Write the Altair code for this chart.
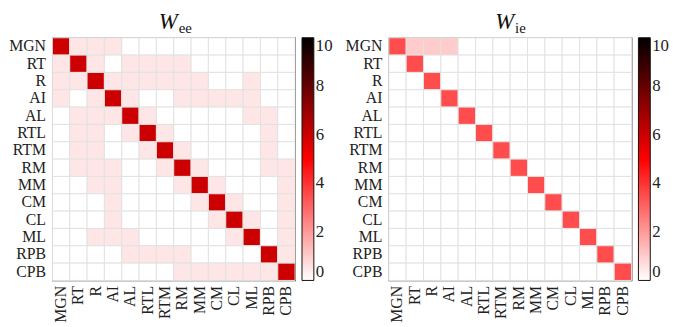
import altair as alt
import pandas as pd

categories = ["MGN", "RT", "R", "AI", "AL", "RTL", "RTM", "RM", "MM", "CM", "CL", "ML", "RPB", "CPB"]

# W_ee values (diagonal ~6, weak connections ~0.5)
D, P = 6.0, 0.5
W_ee = [
    [D, P, P, P, 0, 0, 0, 0, 0, 0, 0, 0, 0, 0],
    [P, D, P, 0, P, P, P, P, 0, 0, 0, 0, 0, 0],
    [P, P, D, P, P, P, P, P, P, 0, 0, P, 0, 0],
    [P, 0, P, D, P, 0, 0, P, P, P, P, P, 0, 0],
    [0, P, P, P, D, P, 0, 0, 0, 0, 0, P, P, 0],
    [0, P, P, 0, P, D, P, 0, 0, 0, 0, 0, P, 0],
    [0, P, P, 0, 0, P, D, P, 0, 0, 0, 0, P, 0],
    [0, P, P, P, 0, 0, P, D, P, 0, 0, 0, P, P],
    [0, 0, P, P, 0, 0, 0, P, D, P, 0, 0, 0, P],
    [0, 0, 0, P, 0, 0, 0, 0, P, D, P, 0, 0, P],
    [0, 0, 0, P, 0, 0, 0, 0, 0, P, D, P, 0, P],
    [0, 0, P, P, P, 0, 0, 0, 0, 0, P, D, 0, P],
    [0, 0, 0, 0, P, P, P, P, 0, 0, 0, 0, D, P],
    [0, 0, 0, 0, 0, 0, 0, P, P, P, P, P, P, D],
]

# W_ie values (diagonal ~3.5, MGN row ~1)
d, q = 3.5, 1.0
W_ie = [[(d if i == j else 0.0) for j in range(14)] for i in range(14)]
W_ie[0][1] = q
W_ie[0][2] = q
W_ie[0][3] = q

FONT = "Liberation Serif"
SIZE = 246


def to_df(M):
    rows = []
    for i, r in enumerate(categories):
        for j, c in enumerate(categories):
            rows.append({"row": r, "col": c, "value": M[i][j]})
    return pd.DataFrame(rows)


def panel(M, sub):
    heat = alt.Chart(to_df(M)).mark_rect(stroke="#e2e2e2", strokeWidth=1).encode(
        x=alt.X("col:N", sort=categories, title=None,
                axis=alt.Axis(labelAngle=-90, ticks=False, domain=False, grid=False,
                              labelFont=FONT, labelFontSize=16, labelColor="#222",
                              labelPadding=5)),
        y=alt.Y("row:N", sort=categories, title=None,
                axis=alt.Axis(ticks=False, domain=False, grid=False,
                              labelFont=FONT, labelFontSize=16, labelColor="#222",
                              labelPadding=7)),
        color=alt.Color("value:Q",
                        scale=alt.Scale(domain=[0, 5, 10],
                                        range=["#ffffff", "#ff0000", "#000000"],
                                        interpolate="rgb"),
                        legend=alt.Legend(title=None, orient="right", direction="vertical",
                                          gradientLength=SIZE, gradientThickness=12,
                                          gradientStrokeColor="#111", gradientStrokeWidth=1,
                                          values=[0, 2, 4, 6, 8, 10], offset=7,
                                          labelFont=FONT, labelFontSize=17,
                                          labelColor="#222", labelPadding=4)),
    )
    tW = alt.Chart(pd.DataFrame({"t": ["W"]})).mark_text(
        font=FONT, fontStyle="italic", fontSize=23, align="right", baseline="alphabetic",
        color="#111").encode(text="t:N", x=alt.value(SIZE / 2 + 4), y=alt.value(-9))
    tS = alt.Chart(pd.DataFrame({"t": [sub]})).mark_text(
        font=FONT, fontSize=15, align="left", baseline="alphabetic",
        color="#111").encode(text="t:N", x=alt.value(SIZE / 2 + 5), y=alt.value(-5))
    return alt.layer(heat, tW, tS).properties(width=SIZE, height=SIZE)


chart = alt.hconcat(panel(W_ee, "ee"), panel(W_ie, "ie"), spacing=11).resolve_scale(
    color="independent"
).configure_view(stroke="#333", strokeWidth=1.2).properties(
    padding={"left": 0, "top": 0, "right": 0, "bottom": 0}
)

chart.save("out.html", embed_options={"renderer": "svg", "actions": False})
